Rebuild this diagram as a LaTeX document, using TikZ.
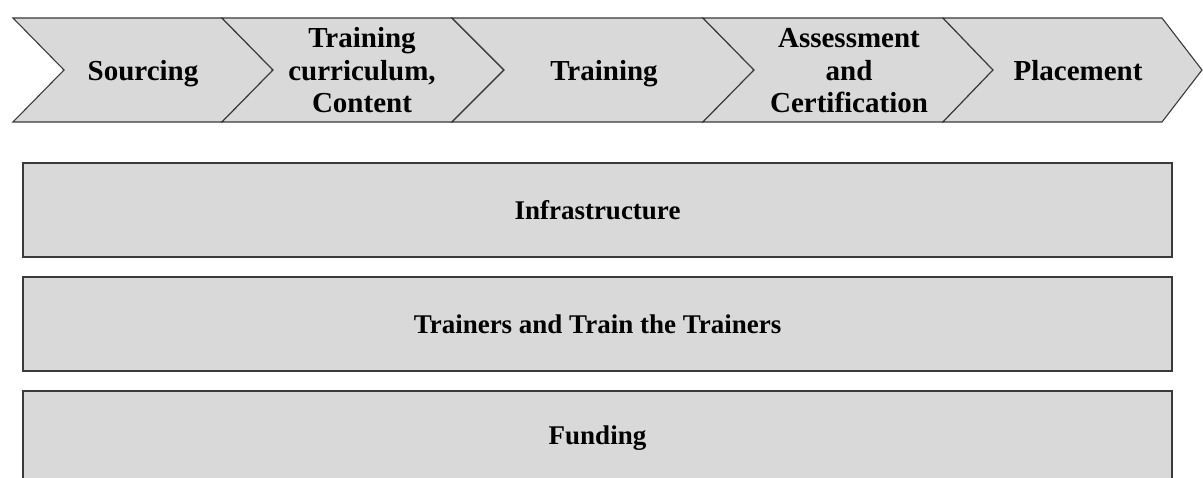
\documentclass[tikz,border=0pt]{standalone}
\usepackage{fontspec}
\setmainfont{Liberation Serif}
\definecolor{boxfill}{HTML}{D9D9D9}
\definecolor{boxline}{HTML}{3A3A3A}
\begin{document}
\begin{tikzpicture}[x=1pt,y=-1pt,
  chev/.style={fill=boxfill,draw=boxline,line width=1.1pt,line join=miter},
  chevtext/.style={align=center,anchor=base,font=\bfseries\fontsize{29}{32.5}\selectfont,inner sep=0pt},
  bar/.style={fill=boxfill,draw=boxline,line width=1.6pt,minimum width=1149pt,minimum height=94pt,inner sep=0pt,font=\bfseries\fontsize{27}{30}\selectfont}]
\useasboundingbox (0,0) rectangle (1203,478);
\clip (0,0) rectangle (1203,478);
% chevrons
\draw[chev] (13,18) -- (222,18) -- (273,70) -- (222,122) -- (13,122) -- (64,70) -- cycle;
\draw[chev] (222,18) -- (452,18) -- (504,70) -- (452,122) -- (222,122) -- (273,70) -- cycle;
\draw[chev] (452,18) -- (703,18) -- (754,70) -- (703,122) -- (452,122) -- (504,70) -- cycle;
\draw[chev] (703,18) -- (943,18) -- (993,70) -- (943,122) -- (703,122) -- (754,70) -- cycle;
\draw[chev] (943,18) -- (1162,18) -- (1202,70) -- (1162,122) -- (943,122) -- (993,70) -- cycle;
\node[chevtext] (sourcing) at (143,81) {Sourcing};
\node[chevtext] (curr) at (362,113) {Training\\curriculum,\\Content};
\node[chevtext] (training) at (604,81) {Training};
\node[chevtext] (assess) at (849,113) {Assessment\\and\\Certification};
\node[chevtext] (place) at (1078,81) {Placement};
% bars
\node[bar] (infra) at (597.5,210) {Infrastructure};
\node[bar] (trainers) at (597.5,324) {Trainers and Train the Trainers};
\node[bar] (funding) at (597.5,438) {Funding};
\end{tikzpicture}
\end{document}
